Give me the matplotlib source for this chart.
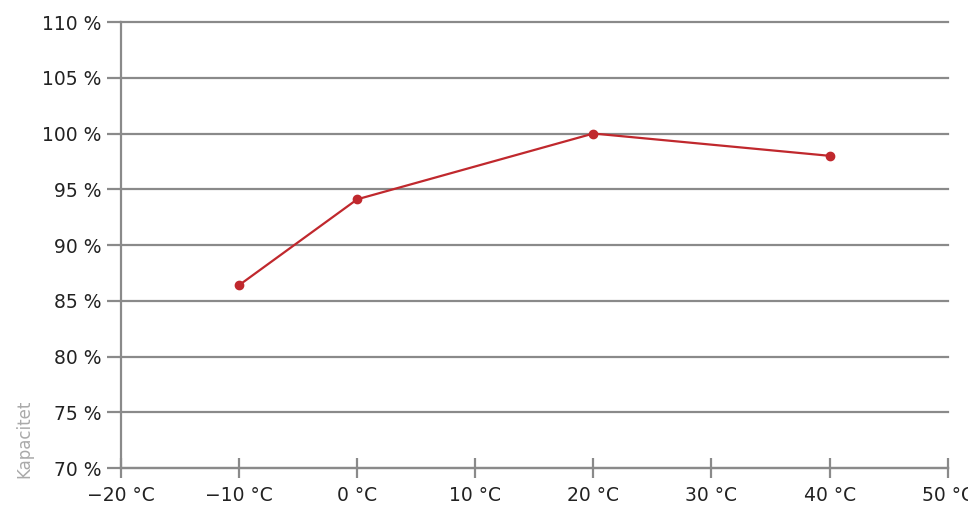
import matplotlib
matplotlib.use('Agg')
import matplotlib.pyplot as plt

temps = [-10, 0, 20, 40]
capacity = [86.4, 94.1, 100.0, 98.0]
x_ticks = [-20, -10, 0, 10, 20, 30, 40, 50]
y_ticks = [70, 75, 80, 85, 90, 95, 100, 105, 110]

grey = '#8a8a8a'
red = '#c0282d'

fig = plt.figure(figsize=(9.68, 5.28), dpi=100)
ax = fig.add_axes([0.125, 0.1136, 0.854, 0.8447])

for y in y_ticks:
    ax.axhline(y, color=grey, lw=1.6, zorder=1, clip_on=False)

ax.plot(temps, capacity, color=red, lw=1.6, marker='o', markersize=6, zorder=3)

ax.set_xlim(-20, 50)
ax.set_ylim(70, 110)
ax.set_xticks(x_ticks)
ax.set_xticklabels([f'\u2212{abs(t)} \u00b0C' if t < 0 else f'{t} \u00b0C' for t in x_ticks])
ax.set_yticks(y_ticks)
ax.set_yticklabels([f'{y} %' for y in y_ticks])

for s in ['top', 'right']:
    ax.spines[s].set_visible(False)
for s in ['left', 'bottom']:
    ax.spines[s].set_color(grey)
    ax.spines[s].set_linewidth(1.6)

ax.tick_params(axis='x', direction='inout', length=14, width=1.6, color=grey,
               labelsize=13.5, pad=6, labelcolor='#222222')
ax.tick_params(axis='y', direction='out', length=10, width=1.6, color=grey,
               labelsize=13.5, pad=4, labelcolor='#222222')

fig.text(0.016, 0.095, 'Kapacitet', rotation=90, color='#aaaaaa', fontsize=12,
         ha='left', va='bottom')

fig.savefig('out.png', dpi=100)
